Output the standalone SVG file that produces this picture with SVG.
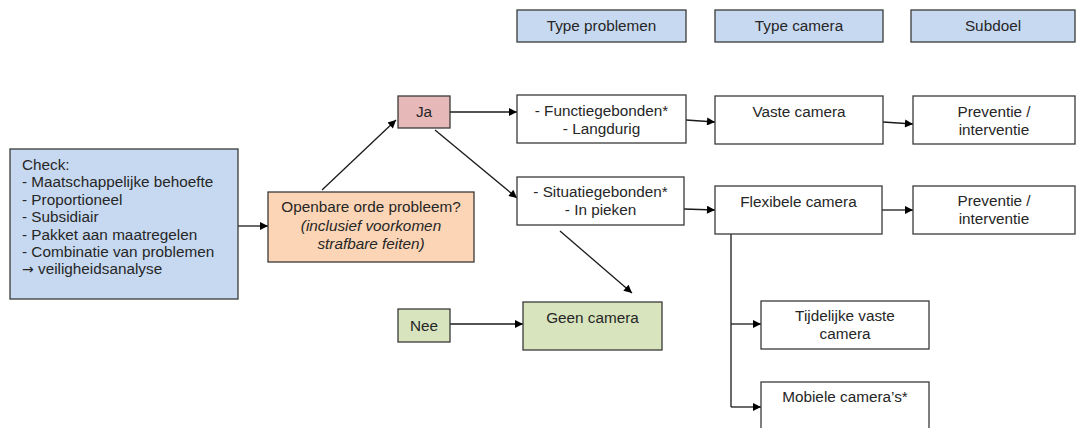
<svg xmlns="http://www.w3.org/2000/svg" width="1080" height="428" viewBox="0 0 1080 428">
<defs>
<marker id="ah" viewBox="0 0 10 10" refX="10" refY="5" markerWidth="10" markerHeight="8" markerUnits="userSpaceOnUse" orient="auto">
<path d="M0,0 L10,5 L0,10 Z" fill="#000"/>
</marker>
<style>
text{font-family:"Liberation Sans",Arial,sans-serif;font-size:15.3px;fill:#262626}
.c{text-anchor:middle}
.i{font-style:italic}
.arw{font-family:"DejaVu Sans",sans-serif;font-size:14px}
rect{stroke:#3a3a3a;stroke-width:1.3}
.blue{fill:#c6d9f1}
.org{fill:#fbd5b5}
.pink{fill:#e6b9b8}
.grn{fill:#d7e4bd}
.wht{fill:#ffffff}
.ln{stroke:#1a1a1a;stroke-width:1.3;fill:none}
.ar{marker-end:url(#ah)}
</style>
</defs>
<rect width="1080" height="428" fill="#ffffff" style="stroke:none"/>

<g id="connectors">
<line class="ln ar" x1="238" y1="226" x2="268" y2="226"/>
<line class="ln ar" x1="322" y1="190" x2="396" y2="120"/>
<line class="ln ar" x1="450" y1="112" x2="517" y2="112"/>
<line class="ln ar" x1="435" y1="130" x2="517" y2="198"/>
<line class="ln ar" x1="560" y1="231" x2="632" y2="293"/>
<line class="ln ar" x1="450" y1="324" x2="523" y2="324"/>
<line class="ln ar" x1="686" y1="120" x2="715" y2="122"/>
<line class="ln ar" x1="684" y1="209" x2="715" y2="210"/>
<line class="ln ar" x1="883" y1="122" x2="913" y2="124"/>
<line class="ln ar" x1="882" y1="210" x2="913" y2="210"/>
<polyline class="ln" points="731,234 731,407"/>
<line class="ln ar" x1="731" y1="324" x2="761" y2="324"/>
<line class="ln ar" x1="731" y1="407" x2="761" y2="407"/>
</g>

<g id="hdr-type-problemen">
<rect class="blue" x="517" y="10" width="169" height="32"/>
<text class="c" x="601.5" y="31">Type problemen</text>
</g>
<g id="hdr-type-camera">
<rect class="blue" x="715" y="10" width="168" height="32"/>
<text class="c" x="799" y="31">Type camera</text>
</g>
<g id="hdr-subdoel">
<rect class="blue" x="911" y="10" width="164" height="32"/>
<text class="c" x="993" y="31">Subdoel</text>
</g>

<g id="check">
<rect class="blue" x="10" y="149" width="228" height="150"/>
<text x="22" y="170">Check:</text>
<text x="22" y="187.4">- Maatschappelijke behoefte</text>
<text x="22" y="204.8">- Proportioneel</text>
<text x="22" y="222.2">- Subsidiair</text>
<text x="22" y="239.6">- Pakket aan maatregelen</text>
<text x="22" y="257">- Combinatie van problemen</text>
<text x="22" y="274.4"><tspan class="arw">→</tspan> veiligheidsanalyse</text>
</g>

<g id="openbare-orde">
<rect class="org" x="268" y="192" width="206" height="70"/>
<text class="c" x="371" y="212">Openbare orde probleem?</text>
<text class="c i" x="371" y="231">(inclusief voorkomen</text>
<text class="c i" x="371" y="249">strafbare feiten)</text>
</g>

<g id="ja">
<rect class="pink" x="398" y="96" width="52" height="32"/>
<text class="c" x="424" y="117">Ja</text>
</g>

<g id="nee">
<rect class="grn" x="398" y="309" width="52" height="33"/>
<text class="c" x="424" y="331">Nee</text>
</g>

<g id="functiegebonden">
<rect class="wht" x="517" y="95" width="169" height="48"/>
<text class="c" x="601.5" y="116">- Functiegebonden*</text>
<text class="c" x="601.5" y="133.5">- Langdurig</text>
</g>

<g id="situatiegebonden">
<rect class="wht" x="517" y="177" width="167" height="48"/>
<text class="c" x="600.5" y="197">- Situatiegebonden*</text>
<text class="c" x="600.5" y="215">- In pieken</text>
</g>

<g id="geen-camera">
<rect class="grn" x="523" y="302" width="139" height="48"/>
<text class="c" x="592.5" y="323">Geen camera</text>
</g>

<g id="vaste-camera">
<rect class="wht" x="715" y="96" width="168" height="48"/>
<text class="c" x="799" y="117">Vaste camera</text>
</g>

<g id="flexibele-camera">
<rect class="wht" x="715" y="186" width="167" height="48"/>
<text class="c" x="798.5" y="207">Flexibele camera</text>
</g>

<g id="preventie-1">
<rect class="wht" x="913" y="96" width="162" height="48"/>
<text class="c" x="994" y="117">Preventie /</text>
<text class="c" x="994" y="135">interventie</text>
</g>

<g id="preventie-2">
<rect class="wht" x="913" y="186" width="162" height="48"/>
<text class="c" x="994" y="206">Preventie /</text>
<text class="c" x="994" y="223.5">interventie</text>
</g>

<g id="tijdelijke-vaste-camera">
<rect class="wht" x="761" y="301" width="168" height="48"/>
<text class="c" x="845" y="321">Tijdelijke vaste</text>
<text class="c" x="845" y="338.5">camera</text>
</g>

<g id="mobiele-cameras">
<rect class="wht" x="761" y="382" width="168" height="48"/>
<text class="c" x="845" y="402">Mobiele camera’s*</text>
</g>
</svg>
